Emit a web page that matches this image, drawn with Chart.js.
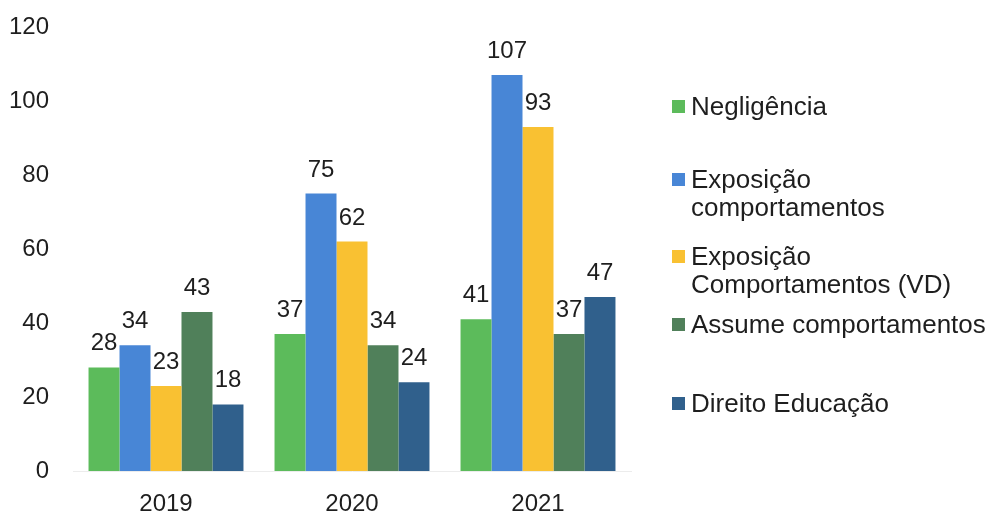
<!DOCTYPE html>
<html>
<head>
<meta charset="utf-8">
<script src="https://cdn.jsdelivr.net/npm/chart.js@4.4.0/dist/chart.umd.min.js"></script>
<style>
  body { margin: 0; background: #fff; font-family: "Liberation Sans", Arial, sans-serif; }
  #wrap { position: relative; width: 987px; height: 514px; }
  #legend { position: absolute; left: 672px; top: 0; color: #1e1e1e; font-size: 26px; line-height: 28px; }
  .item { position: absolute; left: 0; white-space: nowrap; }
  .box { position: absolute; left: 0; top: 8px; width: 13px; height: 13px; }
  .txt { position: absolute; left: 19px; top: 0; }
</style>
</head>
<body>
<div id="wrap">
  <canvas id="chart1" width="987" height="514"></canvas>
  <div id="legend"></div>
</div>
<script>
const years = ['2019', '2020', '2021'];
const seriesNames = [
    ['Negligência'],
    ['Exposição', 'comportamentos'],
    ['Exposição', 'Comportamentos (VD)'],
    ['Assume comportamentos'],
    ['Direito Educação']
];
const negligencia = [28, 37, 41];
const exposicao = [34, 75, 107];
const exposicaoVD = [23, 62, 93];
const assume = [43, 34, 37];
const direitoEducacao = [18, 24, 47];
const yTicks = [0, 20, 40, 60, 80, 100, 120];

const colors = ['#5cbb5b', '#4886d6', '#f9c132', '#50805a', '#30608c'];
const allValues = [negligencia, exposicao, exposicaoVD, assume, direitoEducacao];

// legend is html because the labels wrap over two lines
const legendTops = [92, 165, 242, 310, 389];
const legend = document.getElementById('legend');
seriesNames.forEach(function (lines, i) {
    const el = document.createElement('div');
    el.className = 'item';
    el.style.top = legendTops[i] + 'px';
    el.innerHTML = '<span class="box" style="background:' + colors[i] + '"></span>' +
        '<span class="txt">' + lines.join('<br>') + '</span>';
    legend.appendChild(el);
});

// values written above each bar
const barValues = {
    id: 'barValues',
    afterDatasetsDraw(chart) {
        const ctx = chart.ctx;
        ctx.save();
        ctx.font = '24px "Liberation Sans", Arial, sans-serif';
        ctx.fillStyle = '#1e1e1e';
        ctx.textAlign = 'center';
        ctx.textBaseline = 'alphabetic';
        chart.data.datasets.forEach(function (ds, i) {
            chart.getDatasetMeta(i).data.forEach(function (bar, j) {
                ctx.fillText(ds.data[j], bar.x, bar.y - 17);
            });
        });
        ctx.restore();
    }
};

const ctx = document.getElementById('chart1').getContext('2d');
new Chart(ctx, {
    type: 'bar',
    data: {
        labels: years,
        datasets: allValues.map(function (vals, i) {
            return {
                label: seriesNames[i].join(' '),
                data: vals,
                backgroundColor: colors[i],
                borderWidth: 0
            };
        })
    },
    options: {
        responsive: false,
        animation: false,
        layout: { padding: { top: 27, right: 356, bottom: 0, left: 0 } },
        plugins: {
            legend: { display: false },
            tooltip: { enabled: false }
        },
        datasets: {
            bar: { categoryPercentage: 0.833, barPercentage: 1.0 }
        },
        scales: {
            y: {
                min: 0,
                max: 120,
                afterBuildTicks: function (axis) {
                    axis.ticks = yTicks.map(v => ({ value: v }));
                },
                afterFit: function (axis) {
                    axis.width = 73;
                    axis.paddingTop = 0;
                    axis.paddingBottom = 0;
                },
                grid: { display: false },
                border: { display: false },
                ticks: {
                    padding: 16,
                    color: '#1e1e1e',
                    font: { family: '"Liberation Sans", Arial, sans-serif', size: 24 }
                }
            },
            x: {
                afterFit: function (axis) { axis.height = 43; },
                grid: { display: false },
                border: { display: true, color: '#ececec' },
                ticks: {
                    padding: 11,
                    color: '#1e1e1e',
                    font: { family: '"Liberation Sans", Arial, sans-serif', size: 24 }
                }
            }
        }
    },
    plugins: [barValues]
});
</script>
</body>
</html>
